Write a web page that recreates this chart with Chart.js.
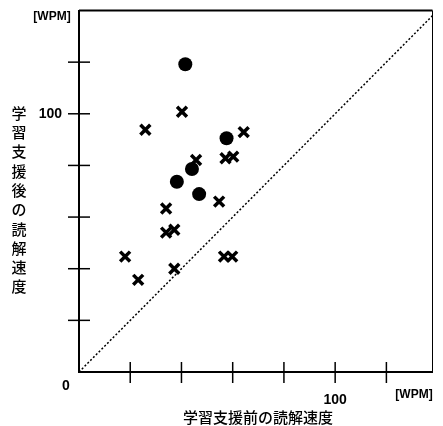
<!DOCTYPE html>
<html>
<head>
<meta charset="utf-8">
<script src="https://cdn.jsdelivr.net/npm/chart.js@4"></script>
<style>
  body { margin: 0; background: #fff; }
  #wrap { width: 443px; height: 426px; }
</style>
</head>
<body>
<div id="wrap"><canvas id="chartScatter" width="443" height="426"></canvas></div>
<script>
// reading speed before (x) and after (y) learning support, in WPM
const circleBefore = [41.5, 57.6, 44.1, 38.2, 46.9]
const circleAfter = [119.2, 90.5, 78.6, 73.7, 68.9]
const crossBefore = [40.2, 25.9, 64.3, 45.7, 57.2, 60.2, 54.7, 34.0, 37.2, 34.0, 18.0, 56.6, 59.8, 37.2, 23.1]
const crossAfter = [100.8, 93.8, 92.9, 82.1, 82.8, 83.4, 66.0, 63.3, 55.1, 54.0, 44.7, 44.7, 44.7, 40.0, 35.7]
const tickValues = [20, 40, 60, 80, 100, 120]
const labelledTicks = [100]
const diagonal = [0, 140]

const xTitle = '学習支援前の読解速度'
const yTitle = '学習支援後の読解速度'
const unit = '[WPM]'

const toPoints = (xs, ys) => xs.map((x, i) => ({ x: x, y: ys[i] }))

const noPadding = s => {
    s.paddingTop = 0
    s.paddingBottom = 0
    s.paddingLeft = 0
    s.paddingRight = 0
}

const frame = {
    id: 'frame',
    afterDraw(chart) {
        const ctx = chart.ctx
        const a = chart.chartArea
        const xs = chart.scales.x
        const ys = chart.scales.y
        ctx.save()
        ctx.strokeStyle = '#000'
        // top and right edges
        ctx.lineWidth = 2
        ctx.beginPath()
        ctx.moveTo(a.left, a.top)
        ctx.lineTo(a.right, a.top)
        ctx.stroke()
        ctx.lineWidth = 1
        ctx.beginPath()
        ctx.moveTo(a.right, a.top)
        ctx.lineTo(a.right, a.bottom)
        ctx.stroke()
        // cross tick marks
        ctx.lineWidth = 1.5
        tickValues.forEach(v => {
            const px = xs.getPixelForValue(v)
            ctx.beginPath()
            ctx.moveTo(px, a.bottom - 10)
            ctx.lineTo(px, a.bottom + 11)
            ctx.stroke()
            const py = ys.getPixelForValue(v)
            ctx.beginPath()
            ctx.moveTo(a.left - 11, py)
            ctx.lineTo(a.left + 11, py)
            ctx.stroke()
        })
        // texts
        ctx.fillStyle = '#000'
        ctx.textAlign = 'center'
        ctx.textBaseline = 'middle'
        ctx.font = 'bold 14px "Liberation Sans", Arial, sans-serif'
        ctx.fillText('0', 66, 386)
        ctx.font = 'bold 12px "Liberation Sans Narrow", "Liberation Sans", Arial, sans-serif'
        ctx.fillText(unit, 414, 395)
        ctx.fillText(unit, 52, 17)
        ctx.font = '500 15px "Noto Sans CJK JP", sans-serif'
        ctx.fillText(xTitle, 258, 417)
        Array.from(yTitle).forEach((ch, i) => {
            ctx.fillText(ch, 19, 113 + i * 19.3)
        })
        ctx.restore()
    },
}

const configScatter = {
    type: 'scatter',
    data: {
        datasets: [
            {
                label: 'diagonal',
                type: 'line',
                data: toPoints(diagonal, diagonal),
                borderColor: '#000',
                borderWidth: 1.5,
                borderDash: [2, 2],
                pointRadius: 0,
                fill: false,
            },
            {
                label: 'circle',
                data: toPoints(circleBefore, circleAfter),
                pointStyle: 'circle',
                pointRadius: 7,
                backgroundColor: '#000',
                borderColor: '#000',
                borderWidth: 0,
            },
            {
                label: 'cross',
                data: toPoints(crossBefore, crossAfter),
                pointStyle: 'crossRot',
                pointRadius: 7,
                borderColor: '#000',
                borderWidth: 3.5,
            },
        ],
    },
    options: {
        responsive: false,
        animation: false,
        events: [],
        layout: { padding: { top: 10, right: -4, left: 0, bottom: 0 } },
        plugins: { legend: { display: false }, tooltip: { enabled: false } },
        scales: {
            x: {
                type: 'linear',
                min: 0,
                max: 138,
                afterFit: s => { s.height = 54; noPadding(s) },
                afterBuildTicks: s => { s.ticks = labelledTicks.map(v => ({ value: v })) },
                grid: { display: false, drawTicks: false },
                border: { display: true, color: '#000', width: 2 },
                ticks: {
                    padding: 20,
                    color: '#000',
                    font: { family: '"Liberation Sans", Arial, sans-serif', size: 14, weight: 'bold' },
                },
            },
            y: {
                type: 'linear',
                min: 0,
                max: 140,
                afterFit: s => { s.width = 79; noPadding(s) },
                afterBuildTicks: s => { s.ticks = labelledTicks.map(v => ({ value: v })) },
                grid: { display: false, drawTicks: false },
                border: { display: true, color: '#000', width: 2 },
                ticks: {
                    padding: 17,
                    color: '#000',
                    font: { family: '"Liberation Sans", Arial, sans-serif', size: 14, weight: 'bold' },
                },
            },
        },
    },
    plugins: [frame],
}

var chartScatter = new Chart(document.getElementById('chartScatter'), configScatter)
</script>
</body>
</html>
